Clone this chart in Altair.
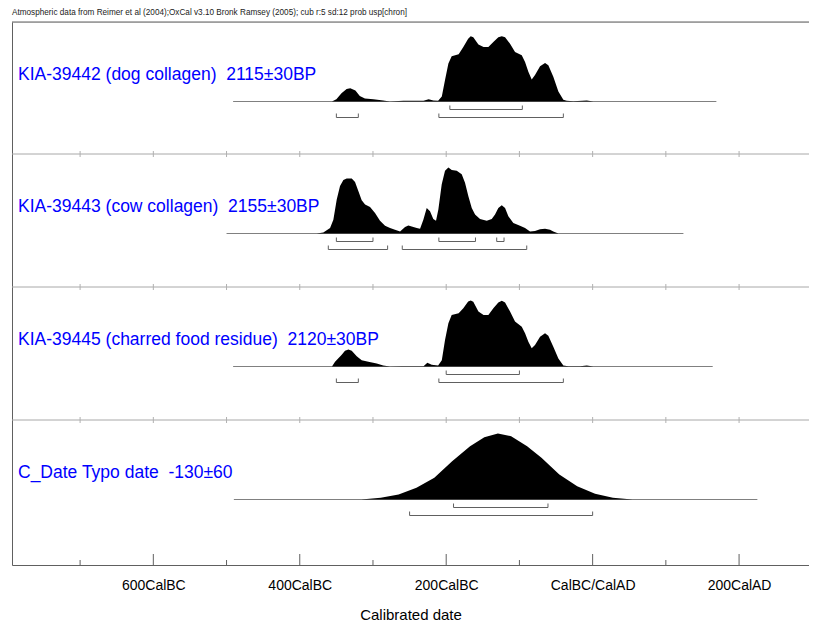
import altair as alt
import pandas as pd

# ---------------- data ----------------
HEADER = "Atmospheric data from Reimer et al (2004);OxCal v3.10 Bronk Ramsey (2005); cub r:5 sd:12 prob usp[chron]"

LABELS = [
    "KIA-39442 (dog collagen)\u00a0 2115±30BP",
    "KIA-39443 (cow collagen)\u00a0 2155±30BP",
    "KIA-39445 (charred food residue)\u00a0 2120±30BP",
    "C_Date Typo date\u00a0 -130±60",
]

# calibrated year (negative = BC) and relative probability
P1_YEARS = [-356, -350, -343, -336, -331, -324, -318, -311, -299.5, -286, -277, -258.5, -245, -231, -224,
            -217.5, -211, -206, -201.6, -197, -192.5, -183, -176.6, -170, -166.5, -163, -156, -149, -142.4,
            -135.6, -128.8, -124, -119.6, -112.8, -106, -96.8, -92.3, -87.8, -83.2, -78.7, -71.8, -65, -60.5,
            -53.7, -46.8, -40, -35.4, -26.4, -8, 1]
P1_PROB = [0, 0.035, 0.125, 0.19, 0.2, 0.165, 0.085, 0.045, 0.035, 0.015, 0, 0.01, 0.01, 0.01, 0.035,
           0.015, 0.01, 0.075, 0.325, 0.575, 0.685, 0.715, 0.825, 0.95, 0.99, 0.975, 0.865, 0.825, 0.825,
           0.9, 0.975, 0.99, 0.975, 0.875, 0.75, 0.7, 0.6, 0.45, 0.335, 0.4, 0.535, 0.585, 0.55,
           0.375, 0.15, 0.025, 0.01, 0.005, 0.015, 0]

P2_YEARS = [-376.8, -367.8, -358.6, -354.1, -349.5, -345, -340.4, -335.9, -329, -324.5, -320, -315.4, -310.8,
            -304, -297.2, -290.4, -283.5, -276.7, -269.9, -263, -256.2, -251.7, -247.1, -240.2, -235.7, -231.2,
            -226.6, -222.1, -217.6, -213.9, -210.7, -206.1, -201.6, -197, -192.4, -185.6, -178.8, -174.3,
            -169.7, -165.1, -160.6, -153.8, -144.6, -137.8, -133.3, -128.8, -124.1, -119.6, -115.1, -108.3,
            -99.2, -92.3, -85.5, -78.7, -71.8, -65, -58.2, -53.7, -46.8]
P2_PROB = [0, 0.015, 0.082, 0.209, 0.515, 0.719, 0.811, 0.832, 0.832, 0.781, 0.643, 0.505, 0.439,
           0.403, 0.311, 0.194, 0.117, 0.082, 0.056, 0.031, 0.097, 0.122, 0.107, 0.082, 0.071, 0.209,
           0.388, 0.337, 0.219, 0.194, 0.362, 0.745, 0.949, 1.0, 0.964, 0.949, 0.898, 0.77,
           0.566, 0.388, 0.286, 0.219, 0.194, 0.219, 0.286, 0.388, 0.429, 0.388, 0.26, 0.158,
           0.117, 0.082, 0.031, 0.036, 0.066, 0.071, 0.056, 0.031, 0]

P3_YEARS = [-356, -351.8, -343, -338.2, -333.6, -329, -322.2, -315.4, -306.3, -294.9, -286, -277, -260.7,
            -231, -225.7, -219.8, -211, -206, -201.6, -197, -192.5, -183, -176.6, -170, -166.5, -163, -156,
            -149, -142.4, -135.6, -128.8, -124, -119.6, -112.8, -106, -96.8, -92.3, -87.8, -83.2, -78.7,
            -71.8, -65, -60.5, -53.7, -46.8, -40, -33.2, -17.2, -8, 1]
P3_PROB = [0, 0.071, 0.173, 0.239, 0.259, 0.239, 0.157, 0.096, 0.071, 0.046, 0.015, 0, 0.005,
           0.005, 0.056, 0.025, 0.015, 0.096, 0.401, 0.655, 0.782, 0.807, 0.883, 0.985, 1.0, 0.98, 0.832,
           0.782, 0.782, 0.883, 0.97, 0.995, 0.97, 0.832, 0.68, 0.604, 0.503, 0.376, 0.275, 0.325,
           0.452, 0.503, 0.467, 0.299, 0.122, 0.015, 0.005, 0.005, 0.015, 0]

P4_YEARS = [-316.2, -289.4, -265, -240.6, -216.2, -191.9, -167.4, -147.9, -129.4, -111.3, -89.5, -69.9,
            -45.5, -21.1, 3.3, 27.7, 54.5]
P4_PROB = [0, 0.025, 0.076, 0.177, 0.328, 0.581, 0.808, 0.944, 1.0, 0.96, 0.808, 0.631,
           0.379, 0.202, 0.086, 0.025, 0]

# extent of each calibration baseline
BASE_START = [-491, -500, -491, -490]
BASE_END = [169, 124, 164, 225]

# ranges (68.2% upper row, 95.4% lower row)
RANGES_68 = [
    [(-195, -96)],
    [(-350, -300), (-210, -160), (-131, -121)],
    [(-200, -100)],
    [(-190, -61)],
]
RANGES_95 = [
    [(-350, -320), (-210, -40)],
    [(-361, -280), (-260, -90)],
    [(-350, -320), (-210, -40)],
    [(-250, 0)],
]

TICK_VALUES = [-600, -400, -200, 0, 200]
TICK_LABELS = ["600CalBC", "400CalBC", "200CalBC", "CalBC/CalAD", "200CalAD"]
MINOR_TICKS = [-700, -500, -300, -100, 100]
SEP_TICKS = [-700, -600, -500, -400, -300, -200, -100, 0, 100, 200]

# ---------------- layout ----------------
X_MIN, X_MAX = -793, 295.5
W, H = 797, 543
PANEL_TOP = [0, 132, 265, 398]
BASE_OFF = 79.5
PEAK = 66
FONT = "Liberation Sans"

xs = alt.Scale(domain=[X_MIN, X_MAX], nice=False, zero=False)
ys = alt.Scale(domain=[0, H], reverse=True, nice=False, zero=False)

years = [P1_YEARS, P2_YEARS, P3_YEARS, P4_YEARS]
probs = [P1_PROB, P2_PROB, P3_PROB, P4_PROB]

area_rows = []
for i, (yy, pp) in enumerate(zip(years, probs)):
    base = PANEL_TOP[i] + BASE_OFF
    for a, p in zip(yy, pp):
        area_rows.append({"panel": i, "year": a, "top": base - PEAK * p, "base": base})
area_df = pd.DataFrame(area_rows)

base_df = pd.DataFrame({
    "x": BASE_START, "x2": BASE_END,
    "y": [t + BASE_OFF for t in PANEL_TOP],
})

hseg, vseg = [], []
for i in range(4):
    for rr, off in ((RANGES_68[i], 8), (RANGES_95[i], 16)):
        yb = PANEL_TOP[i] + BASE_OFF + off
        for s, e in rr:
            hseg.append({"x": s, "x2": e, "y": yb})
            vseg.append({"x": s, "y": yb, "y2": yb - 4})
            vseg.append({"x": e, "y": yb, "y2": yb - 4})
hseg_df = pd.DataFrame(hseg)
vseg_df = pd.DataFrame(vseg)

sep_df = pd.DataFrame({"y": PANEL_TOP[1:], "x": [X_MIN] * 3, "x2": [X_MAX] * 3})
sept = [{"x": t, "y": s - 3, "y2": s + 3} for s in PANEL_TOP[1:] for t in SEP_TICKS]
sept_df = pd.DataFrame(sept)
top_df = pd.DataFrame({"y": [0], "x": [X_MIN], "x2": [X_MAX]})

btick = [{"x": t, "y": H, "y2": H - 11} for t in TICK_VALUES] + \
        [{"x": t, "y": H, "y2": H - 5} for t in MINOR_TICKS]
btick_df = pd.DataFrame(btick)

label_df = pd.DataFrame({"label": LABELS, "y": [t + 53 for t in PANEL_TOP]})
header_df = pd.DataFrame({"text": [HEADER]})

label_expr = " : ".join(
    f"datum.value == {v} ? '{l}'" for v, l in zip(TICK_VALUES, TICK_LABELS)
) + " : ''"

x_axis = alt.Axis(
    values=TICK_VALUES, labelExpr=label_expr, ticks=False, grid=False,
    domainColor="#606060", labelFont=FONT, labelFontSize=14, labelColor="black",
    labelPadding=13, title="Calibrated date", titleFont=FONT, titleFontSize=15,
    titleFontWeight="normal", titleColor="black", titlePadding=15,
)
y_axis = alt.Axis(labels=False, ticks=False, grid=False, title=None, domainColor="#606060")

areas = alt.Chart(area_df).mark_area(color="black", interpolate="linear").encode(
    x=alt.X("year:Q", scale=xs, axis=x_axis),
    y=alt.Y("top:Q", scale=ys, axis=y_axis),
    y2="base:Q",
    detail="panel:N",
)

baselines = alt.Chart(base_df).mark_rule(color="#808080", strokeWidth=1).encode(
    x=alt.X("x:Q", scale=xs), x2="x2:Q", y=alt.Y("y:Q", scale=ys))

seps = alt.Chart(sep_df).mark_rule(color="#a8a8a8", strokeWidth=1).encode(
    x=alt.X("x:Q", scale=xs), x2="x2:Q", y=alt.Y("y:Q", scale=ys))

sep_ticks = alt.Chart(sept_df).mark_rule(color="#b0b0b0", strokeWidth=1).encode(
    x=alt.X("x:Q", scale=xs), y=alt.Y("y:Q", scale=ys), y2="y2:Q")

top_line = alt.Chart(top_df).mark_rule(color="#606060", strokeWidth=1).encode(
    x=alt.X("x:Q", scale=xs), x2="x2:Q", y=alt.Y("y:Q", scale=ys))

bottom_ticks = alt.Chart(btick_df).mark_rule(color="#606060", strokeWidth=1).encode(
    x=alt.X("x:Q", scale=xs), y=alt.Y("y:Q", scale=ys), y2="y2:Q")

br_h = alt.Chart(hseg_df).mark_rule(color="#606060", strokeWidth=1).encode(
    x=alt.X("x:Q", scale=xs), x2="x2:Q", y=alt.Y("y:Q", scale=ys))
br_v = alt.Chart(vseg_df).mark_rule(color="#606060", strokeWidth=1).encode(
    x=alt.X("x:Q", scale=xs), y=alt.Y("y:Q", scale=ys), y2="y2:Q")

labels = alt.Chart(label_df).mark_text(
    align="left", baseline="middle", color="#0000ff", font=FONT, fontSize=17.5
).encode(x=alt.value(6), y=alt.Y("y:Q", scale=ys), text="label:N")

header = alt.Chart(header_df).mark_text(
    align="left", baseline="top", color="#222222", font=FONT, fontSize=8.2
).encode(x=alt.value(0), y=alt.value(-13), text="text:N")

chart = alt.layer(
    seps, sep_ticks, top_line, bottom_ticks, baselines, areas, br_h, br_v, labels, header
).properties(
    width=W, height=H,
    autosize=alt.AutoSizeParams(type="none"),
    padding={"left": 4, "top": 14, "right": 0, "bottom": 58},
).configure_view(stroke=None).configure(background="white")

chart.save("out.html", embed_options={"renderer": "svg", "actions": False})
